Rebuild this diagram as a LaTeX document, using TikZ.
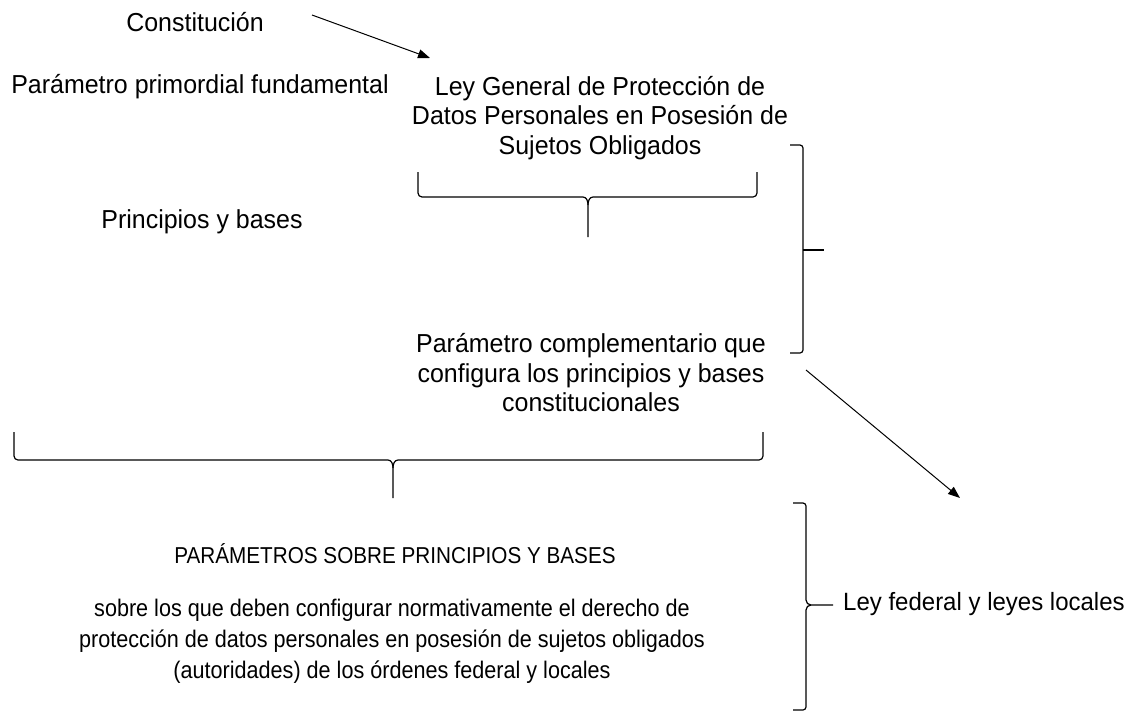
\documentclass[tikz,border=0pt]{standalone}
\usepackage{fontspec}
\setmainfont{Liberation Sans}
\newfontfamily\topfont[FakeStretch=0.96]{Liberation Sans}
\newfontfamily\botfont[FakeStretch=0.9]{Liberation Sans}
\usetikzlibrary{arrows.meta}
\begin{document}
\begin{tikzpicture}[x=1pt,y=-1pt,
  txt/.style={font=\topfont\fontsize{26}{29.5}\selectfont, align=center, inner sep=0pt},
  txtb/.style={font=\botfont\fontsize{24}{31}\selectfont, align=center, inner sep=0pt},
  brace/.style={line width=1.2pt, line join=round},
  arr/.style={line width=1pt, -{Triangle[length=12pt,width=9pt]}}]
\useasboundingbox (0,0) rectangle (1138,712);
\node[txt] (const) at (195,22) {Constitución};
\node[txt] (ppf) at (200,87) {Parámetro primordial fundamental};
\node[txt] (ley) at (600,118) {Ley General de Protección de\\Datos Personales en Posesión de\\Sujetos Obligados};
\node[txt] (pyb) at (202,222) {Principios y bases};
\node[txt] (pc) at (591,373) {Parámetro complementario que\\configura los principios y bases\\constitucionales};
\node[txtb, font=\botfont\fontsize{23}{31}\selectfont] (psp) at (395,554) {PARÁMETROS SOBRE PRINCIPIOS Y BASES};
\node[txtb] (sob) at (392,641) {sobre los que deben configurar normativamente el derecho de\\protección de datos personales en posesión de sujetos obligados\\(autoridades) de los órdenes federal y locales};
\node[txt, font=\topfont\fontsize{25}{30}\selectfont, anchor=west] (lfl) at (843,604) {Ley federal y leyes locales};
\coordinate (a1s) at (312,15);
\coordinate (a1e) at (430,58);
\coordinate (a2s) at (806,370);
\coordinate (a2e) at (960,498);
\draw[arr] (a1s) -- (a1e);
\draw[arr] (a2s) -- (a2e);
% brace under Ley General
\draw[brace] (418,172) -- (418,193) to[out=-90,in=180] (422,197) -- (583,197) to[out=0,in=90] (588,205) -- (588,237);
\draw[brace] (757,172) -- (757,193) to[out=-90,in=0] (753,197) -- (593,197) to[out=180,in=90] (588,205);
% right bracket
\draw[brace] (790,145) -- (800,145) to[out=0,in=90] (803,148) -- (803,350) to[out=-90,in=0] (800,353) -- (790,353);
\draw[brace] (803,250) -- (824,250);
% big brace
\draw[brace] (14,432) -- (14,456) to[out=-90,in=180] (18,460) -- (388,460) to[out=0,in=90] (393,468) -- (393,498);
\draw[brace] (763,432) -- (763,456) to[out=-90,in=0] (759,460) -- (398,460) to[out=180,in=90] (393,468);
% right brace
\draw[brace] (793,503) -- (803,503) to[out=0,in=90] (806,506) -- (806,600) to[out=-90,in=180] (811,605) -- (833,605);
\draw[brace] (793,710) -- (803,710) to[out=0,in=-90] (806,707) -- (806,610) to[out=90,in=180] (811,605);
\end{tikzpicture}
\end{document}
